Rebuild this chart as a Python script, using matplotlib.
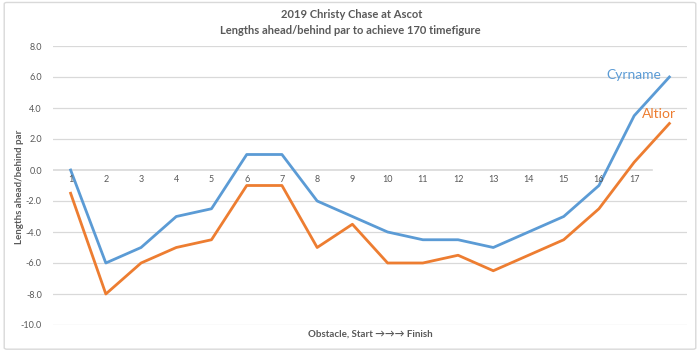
import matplotlib.pyplot as plt
from matplotlib.patches import FancyBboxPatch

plt.rcParams['font.family'] = ['Lato', 'DejaVu Sans']

# data
obstacles = ['1', '2', '3', '4', '5', '6', '7', '8', '9', '10', '11', '12',
             '13', '14', '15', '16', '17', '']
cyrname = [0, -6, -5, -3, -2.5, 1, 1, -2, -3, -4, -4.5, -4.5, -5, -4, -3, -1, 3.5, 6]
altior = [-1.5, -8, -6, -5, -4.5, -1, -1, -5, -3.5, -6, -6, -5.5, -6.5, -5.5, -4.5, -2.5, 0.5, 3]
yticks = [8, 6, 4, 2, 0, -2, -4, -6, -8, -10]

blue = '#5B9BD5'
orange = '#ED7D31'
grey = '#595959'
gridc = '#D9D9D9'

fig = plt.figure(figsize=(7, 3.52), dpi=100)
fig.patches.append(FancyBboxPatch((0.006, 0.008), 0.988, 0.985, boxstyle='round,pad=0,rounding_size=0.004',
                                  transform=fig.transFigure, fill=False, ec='#D9D9D9', lw=1))
ax = fig.add_axes([53 / 700, 1 - 325 / 352, 634 / 700, 279 / 352])

x = list(range(1, len(obstacles) + 1))
ax.plot(x, cyrname, color=blue, lw=2)
ax.plot(x, altior, color=orange, lw=2)

ax.set_xlim(0.5, len(obstacles) + 0.5)
ax.set_ylim(-10, 8)
ax.set_yticks(yticks)
ax.set_yticklabels([f'{v:.1f}' for v in yticks], fontsize=6.5, color=grey)
for v in yticks:
    if v != 0:
        ax.axhline(v, color=gridc, lw=0.9, zorder=0)
ax.plot([0.5, 17.5], [0, 0], color=gridc, lw=1.2, zorder=0)

ax.set_xticks([])
for xi, lab in zip(x, obstacles):
    ax.text(xi, -0.35, lab, ha='center', va='top', fontsize=6.5, color=grey)

for s in ax.spines.values():
    s.set_visible(False)
ax.tick_params(axis='y', length=0, pad=8)

# axis titles and chart title
fig.text(20 / 700, 1 - 187 / 352, 'Lengths ahead/behind par', rotation=90, ha='center', va='center',
         fontsize=7, color=grey, fontweight='bold')
fig.text(370 / 700, 1 - 334 / 352, 'Obstacle, Start \u2192\u2192\u2192 Finish', ha='center', va='center',
         fontsize=7, color=grey, fontweight='bold')
fig.text(352 / 700, 1 - 14 / 352, '2019 Christy Chase at Ascot', ha='center', va='center',
         fontsize=8, color=grey, fontweight='bold')
fig.text(350 / 700, 1 - 30 / 352, 'Lengths ahead/behind par to achieve 170 timefigure', ha='center',
         va='center', fontsize=8, color=grey, fontweight='bold')

fig.text(634 / 700, 1 - 75 / 352, 'Cyrname', color=blue, fontsize=10, ha='center', va='center')
fig.text(659 / 700, 1 - 114 / 352, 'Altior', color=orange, fontsize=10, ha='center', va='center')

fig.savefig('out.png', dpi=100)
